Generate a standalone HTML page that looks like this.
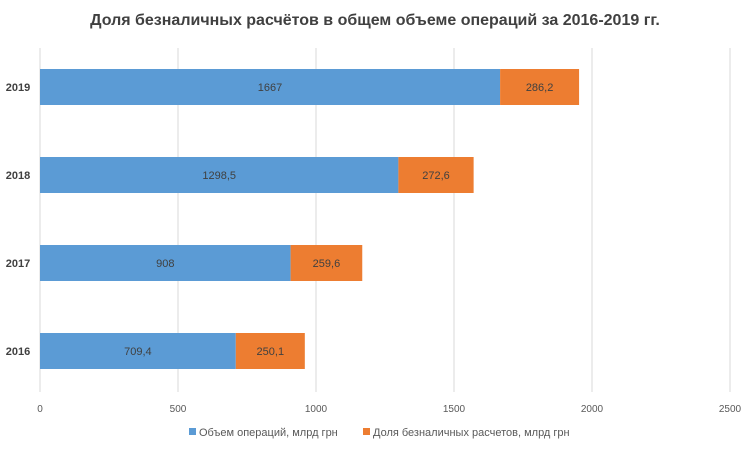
<!DOCTYPE html>
<html><head><meta charset="utf-8"><style>
body{margin:0;background:#fff;font-family:"Liberation Sans",sans-serif}
</style></head><body>
<svg id="c" width="750" height="449" xmlns="http://www.w3.org/2000/svg">
<text x="375" y="25" text-anchor="middle" font-size="16" font-weight="bold" fill="#404040">Доля безналичных расчётов в общем объеме операций за 2016-2019 гг.</text>
<g id="grid"></g><g id="bars"></g><g id="axis"></g>
<g>
<rect x="189" y="428" width="7" height="7" fill="#5b9bd5"/>
<text x="199" y="436" font-size="11" fill="#595959">Объем операций, млрд грн</text>
<rect x="363" y="428" width="7" height="7" fill="#ed7d31"/>
<text x="373" y="436" font-size="11" fill="#595959">Доля безналичных расчетов, млрд грн</text>
</g>
</svg>
<script>
const categories=["2019","2018","2017","2016"];
const volume=[1667,1298.5,908,709.4];
const cashless=[286.2,272.6,259.6,250.1];
const ticks=[0,500,1000,1500,2000,2500];
const NS="http://www.w3.org/2000/svg";
const x0=40,x1=730,maxV=2500;
const X=v=>x0+(v/maxV)*(x1-x0);
const Y=i=>87+i*88;
const fmt=v=>String(v).replace('.',',');
function mk(t,a,p){const e=document.createElementNS(NS,t);for(const k in a)e.setAttribute(k,a[k]);p.appendChild(e);return e;}
const g=document.getElementById('grid'),b=document.getElementById('bars'),ax=document.getElementById('axis');
ticks.forEach(t=>{
 const l=mk('line',{x1:X(t),x2:X(t),y1:48,y2:392,stroke:'#d9d9d9','stroke-width':1},g);
 
 
 const tx=mk('text',{x:X(t),y:412,'text-anchor':'middle','font-size':10,fill:'#595959'},ax);
 tx.textContent=t;
 
 
});
categories.forEach((c,i)=>{
 const y=Y(i),h=36;
 const lab=mk('text',{x:18,y:y+4,'text-anchor':'middle','font-size':11,'font-weight':'bold',fill:'#404040'},ax);
 lab.textContent=c;
 
 
 const r1=mk('rect',{x:X(0),y:y-h/2,width:X(volume[i])-X(0),height:h,fill:'#5b9bd5'},b);
 
 
 const r2=mk('rect',{x:X(volume[i]),y:y-h/2,width:X(volume[i]+cashless[i])-X(volume[i]),height:h,fill:'#ed7d31'},b);
 
 
 const t1=mk('text',{x:(X(0)+X(volume[i]))/2,y:y+4,'text-anchor':'middle','font-size':11,fill:'#404040'},b);
 t1.textContent=fmt(volume[i]);
 
 
 const t2=mk('text',{x:(X(volume[i])+X(volume[i]+cashless[i]))/2,y:y+4,'text-anchor':'middle','font-size':11,fill:'#404040'},b);
 t2.textContent=fmt(cashless[i]);
 
 
});
</script>
</body></html>
